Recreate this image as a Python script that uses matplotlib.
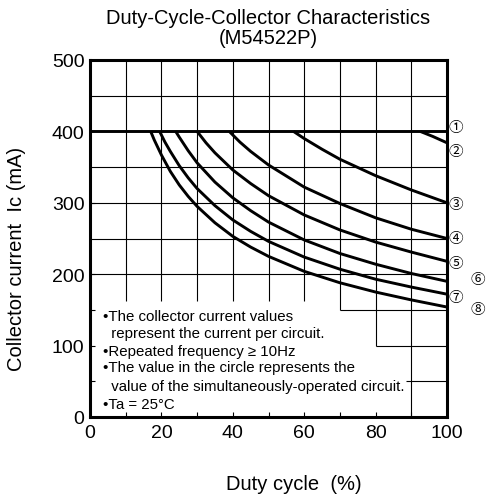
import matplotlib
matplotlib.use("Agg")
import matplotlib.pyplot as plt

plt.rcParams['font.family'] = ['Liberation Sans', 'DejaVu Sans']

# curve values: duty cycle (%) vs collector current (mA)
# circuit 1 stays flat at 400 mA over the whole range
c1_duty = [0, 100]
c1_ic = [400, 400]
c2_duty = [92.5, 96, 100]
c2_ic = [400, 393, 384]
c3_duty = [57, 60, 65, 70, 80, 90, 100]
c3_ic = [400, 390, 375, 361, 338, 318, 300]
c4_duty = [39, 42, 45, 50, 60, 70, 80, 90, 100]
c4_ic = [400, 385, 372, 353, 322, 299, 279, 263, 250]
c5_duty = [30, 32.5, 35, 40, 45, 50, 60, 70, 80, 90, 100]
c5_ic = [400, 384, 370, 346, 327, 310, 283, 262, 245, 231, 218]
c6_duty = [24, 25, 27.5, 30, 35, 40, 45, 50, 60, 70, 80, 90, 100]
c6_ic = [400, 392, 373, 356, 329, 307, 289, 273, 248, 229, 214, 201, 190]
c7_duty = [19.5, 21, 22.5, 25, 27.5, 30, 35, 40, 45, 50, 60, 70, 80, 90, 100]
c7_ic = [400, 385, 372, 352, 335, 320, 296, 276, 260, 246, 224, 207, 193, 182, 172]
c8_duty = [17, 18, 20, 22.5, 25, 27.5, 30, 35, 40, 45, 50, 60, 70, 80, 90, 100]
c8_ic = [400, 388, 367, 344, 325, 309, 295, 272, 253, 238, 225, 204, 188, 175, 164, 154]

curves = [(c1_duty, c1_ic), (c2_duty, c2_ic), (c3_duty, c3_ic), (c4_duty, c4_ic),
          (c5_duty, c5_ic), (c6_duty, c6_ic), (c7_duty, c7_ic), (c8_duty, c8_ic)]

circle_labels = ['\u2460', '\u2461', '\u2462', '\u2463', '\u2464', '\u2465', '\u2466', '\u2467']

notes = ['\u2022The collector current values',
         '  represent the current per circuit.',
         '\u2022Repeated frequency \u2265 10Hz',
         '\u2022The value in the circle represents the',
         '  value of the simultaneously-operated circuit.',
         '\u2022Ta = 25\u00b0C']

x_ticks = [0, 20, 40, 60, 80, 100]
y_ticks = [0, 100, 200, 300, 400, 500]

fig = plt.figure(figsize=(4.88, 5.02), dpi=100)
ax = fig.add_axes([90 / 488, 1 - 418 / 502, 357 / 488, 357 / 502])
ax.set_xlim(0, 100)
ax.set_ylim(0, 500)

# grid, partly cut away where the notes sit
gk = dict(color='black', lw=0.8, zorder=1)
for gx in [10, 20, 30, 40, 50, 60]:
    ax.vlines(gx, 163, 500, **gk)
ax.vlines(70, 150, 500, **gk)
ax.vlines(80, 100, 500, **gk)
ax.vlines(90, 0, 500, **gk)
for gy in [200, 250, 300, 350, 400, 450]:
    ax.hlines(gy, 0, 100, **gk)
ax.hlines(150, 70, 100, **gk)
ax.hlines(100, 80, 100, **gk)
ax.hlines(50, 88.5, 100, **gk)

for d, ic in curves:
    ax.plot(d, ic, color='black', lw=2.1, solid_capstyle='butt', zorder=3)

ax.set_xticks(x_ticks)
ax.set_xticks(range(0, 101, 10), minor=True)
ax.set_yticks(y_ticks)
ax.set_yticks([50, 150], minor=True)
ax.tick_params(which='both', direction='in', length=3.5, width=0.8, labelsize=14, pad=4)
ax.tick_params(axis='x', pad=5)
for s in ax.spines.values():
    s.set_linewidth(2.2)

label_pos = [(102.6, 406), (102.6, 373), (102.6, 298), (102.6, 251),
             (102.6, 216), (108.6, 193), (102.6, 168), (108.6, 151)]
for lab, (lx, ly) in zip(circle_labels, label_pos):
    ax.text(lx, ly, lab, fontsize=10.5, ha='center', va='center',
            family=['Noto Sans CJK JP', 'DejaVu Sans'], clip_on=False)

note_y = [141, 117.5, 93, 69.5, 44, 18]
for t, ny in zip(notes, note_y):
    ax.text(3.7, ny, t, fontsize=10.8, ha='left', va='center')

fig.text(268 / 488, 1 - 18 / 502, 'Duty-Cycle-Collector Characteristics',
         fontsize=14.5, ha='center', va='center')
fig.text(268 / 488, 1 - 39 / 502, '(M54522P)', fontsize=14.5, ha='center', va='center')
fig.text(294 / 488, 1 - 485 / 502, 'Duty cycle  (%)', fontsize=14.5, ha='center', va='center')
fig.text(17 / 488, 1 - 259 / 502, 'Collector current  Ic (mA)', fontsize=14.5,
         ha='center', va='center', rotation=90)

fig.savefig('out.png', dpi=100)
